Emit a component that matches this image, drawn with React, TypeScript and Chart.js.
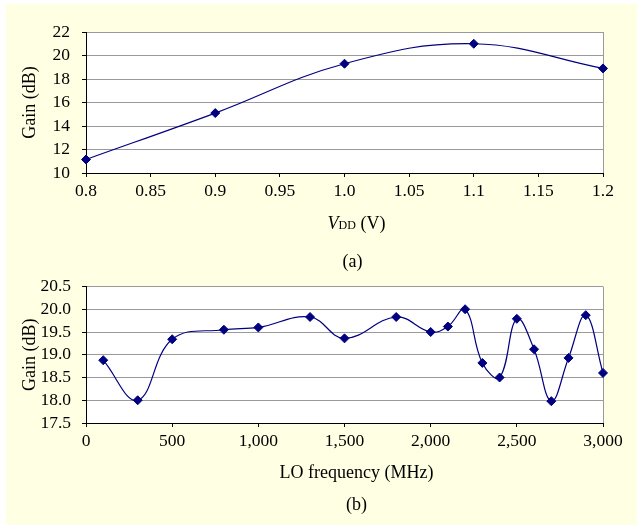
import React, { useEffect, useRef } from "react";
import { Chart, registerables } from "chart.js";

Chart.register(...registerables);

// ---- Data: chart (a) ----
const vddVolts = [0.8, 0.9, 1.0, 1.1, 1.2];
const vddGain = [11.15, 15.1, 19.3, 21.0, 18.9];
const vddTicks = [0.8, 0.85, 0.9, 0.95, 1.0, 1.05, 1.1, 1.15, 1.2];
const vddTickLabels = ["0.8", "0.85", "0.9", "0.95", "1.0", "1.05", "1.1", "1.15", "1.2"];
const gainTicksA = [10, 12, 14, 16, 18, 20, 22];
const gainTickLabelsA = ["10", "12", "14", "16", "18", "20", "22"];

// ---- Data: chart (b) ----
const loFreq = [100, 300, 500, 800, 1000, 1300, 1500, 1800, 2000, 2100, 2200, 2300, 2400, 2500, 2600, 2700, 2800, 2900, 3000];
const loGain = [18.88, 18.0, 19.34, 19.55, 19.6, 19.83, 19.36, 19.83, 19.5, 19.62, 20.0, 18.82, 18.5, 19.79, 19.12, 17.98, 18.93, 19.87, 18.6];
const loTicks = [0, 500, 1000, 1500, 2000, 2500, 3000];
const loTickLabels = ["0", "500", "1,000", "1,500", "2,000", "2,500", "3,000"];
const gainTicksB = [17.5, 18.0, 18.5, 19.0, 19.5, 20.0, 20.5];
const gainTickLabelsB = ["17.5", "18.0", "18.5", "19.0", "19.5", "20.0", "20.5"];

const FAMILY = "'Liberation Serif', 'Times New Roman', serif";
const GRID = "#9a9a9a";
const LINE = "#000080";
const BG = "#FFFFE3";

type Part = { text: string; font: string; dy?: number };
type Caption = { parts: Part[]; dx: number; baseline: number };

function makeFramePlugin(captions: Caption[]) {
  return {
    id: "frameAndCaptions",
    beforeDraw(chart: any) {
      const { ctx, chartArea: a } = chart;
      ctx.save();
      ctx.fillStyle = "#ffffff";
      ctx.fillRect(a.left, a.top, a.right - a.left, a.bottom - a.top);
      ctx.restore();
    },
    beforeDatasetsDraw(chart: any) {
      const { ctx, chartArea: a } = chart;
      ctx.save();
      ctx.strokeStyle = GRID;
      ctx.lineWidth = 1;
      const x = Math.round(a.right - 0.5) + 0.5;
      ctx.beginPath();
      ctx.moveTo(x, a.top);
      ctx.lineTo(x, a.bottom);
      ctx.stroke();
      ctx.restore();
    },
    afterDraw(chart: any) {
      const { ctx, chartArea: a } = chart;
      ctx.save();
      ctx.fillStyle = "#000";
      ctx.textBaseline = "alphabetic";
      ctx.textAlign = "left";
      for (const c of captions) {
        let w = 0;
        for (const p of c.parts) {
          ctx.font = p.font;
          w += ctx.measureText(p.text).width;
        }
        let x = (a.left + a.right) / 2 + c.dx - w / 2;
        for (const p of c.parts) {
          ctx.font = p.font;
          ctx.fillText(p.text, x, c.baseline + (p.dy || 0));
          x += ctx.measureText(p.text).width;
        }
      }
      ctx.restore();
    },
  };
}

function buildConfig(opts: {
  xs: number[];
  ys: number[];
  xTicks: number[];
  xLabels: string[];
  yTicks: number[];
  yLabels: string[];
  padTop: number;
  yPad: number;
  captions: Caption[];
}) {
  const tickFont = { family: FAMILY, size: 17.5 };
  const titleFont = { family: FAMILY, size: 18 };
  const data = opts.xs.map((x, i) => ({ x, y: opts.ys[i] }));
  return {
    type: "line",
    data: {
      datasets: [
        {
          data,
          borderColor: LINE,
          backgroundColor: LINE,
          borderWidth: 1.2,
          pointStyle: "rectRot",
          pointRadius: 4.5,
          pointBackgroundColor: LINE,
          pointBorderColor: LINE,
          pointBorderWidth: 1,
          tension: 0.4,
          fill: false,
          clip: false,
        },
      ],
    },
    options: {
      responsive: false,
      animation: false,
      parsing: true,
      layout: { padding: { top: opts.padTop, left: 0, right: 34, bottom: 0 } },
      plugins: { legend: { display: false }, tooltip: { enabled: false }, title: { display: false } },
      scales: {
        x: {
          type: "linear",
          min: opts.xTicks[0],
          max: opts.xTicks[opts.xTicks.length - 1],
          afterBuildTicks: (ax: any) => {
            ax.ticks = opts.xTicks.map((v) => ({ value: v }));
          },
          ticks: {
            callback: (_v: any, i: number) => opts.xLabels[i],
            font: tickFont,
            color: "#000",
            padding: 4,
            maxRotation: 0,
            autoSkip: false,
          },
          grid: { drawOnChartArea: false, tickLength: 4, tickColor: "#000", color: "#000" },
          border: { color: "#000", width: 1 },
          afterFit: (s: any) => {
            s.height = 102;
          },
        },
        y: {
          type: "linear",
          min: opts.yTicks[0],
          max: opts.yTicks[opts.yTicks.length - 1],
          afterBuildTicks: (ax: any) => {
            ax.ticks = opts.yTicks.map((v) => ({ value: v }));
          },
          ticks: {
            callback: (_v: any, i: number) => opts.yLabels[i],
            font: tickFont,
            color: "#000",
            padding: opts.yPad,
            autoSkip: false,
          },
          grid: { color: GRID, tickLength: 4, tickColor: "#000" },
          border: { color: "#000", width: 1 },
          title: {
            display: true,
            text: "Gain (dB)",
            font: titleFont,
            color: "#000",
            padding: { top: 19, bottom: 0 },
          },
          afterFit: (s: any) => {
            s.width = 86;
          },
        },
      },
    },
    plugins: [makeFramePlugin(opts.captions)],
  } as any;
}

const TITLE = `18px ${FAMILY}`;

function ChartCanvas(props: { config: () => any; top: number; height: number }) {
  const ref = useRef<HTMLCanvasElement | null>(null);
  useEffect(() => {
    if (!ref.current) return;
    const chart = new Chart(ref.current, props.config());
    return () => chart.destroy();
  }, []);
  return (
    <canvas
      ref={ref}
      width={637}
      height={props.height}
      style={{ position: "absolute", left: 0, top: props.top, width: 637, height: props.height, display: "block" }}
    />
  );
}

export default function App() {
  const configA = () =>
    buildConfig({
      xs: vddVolts,
      ys: vddGain,
      xTicks: vddTicks,
      xLabels: vddTickLabels,
      yTicks: gainTicksA,
      yLabels: gainTickLabelsA,
      padTop: 32,
      yPad: 12,
      captions: [
        {
          parts: [
            { text: "V", font: `italic ${TITLE}` },
            { text: "DD", font: `12px ${FAMILY}` },
            { text: " (V)", font: TITLE },
          ],
          dx: 12,
          baseline: 229,
        },
        { parts: [{ text: "(a)", font: TITLE }], dx: 8, baseline: 267 },
      ],
    });
  const configB = () =>
    buildConfig({
      xs: loFreq,
      ys: loGain,
      xTicks: loTicks,
      xLabels: loTickLabels,
      yTicks: gainTicksB,
      yLabels: gainTickLabelsB,
      padTop: 18,
      yPad: 11,
      captions: [
        { parts: [{ text: "LO frequency (MHz)", font: TITLE }], dx: 12, baseline: 213 },
        { parts: [{ text: "(b)", font: TITLE }], dx: 12, baseline: 244.5 },
      ],
    });
  return (
    <div style={{ position: "absolute", left: 0, top: 0, width: 637, height: 525, background: "#ffffff", overflow: "hidden" }}>
      <div style={{ position: "absolute", left: 6, top: 4, right: 0, bottom: 0, background: BG }} />
      <ChartCanvas config={configA} top={0} height={275} />
      <ChartCanvas config={configB} top={265} height={260} />
    </div>
  );
}
